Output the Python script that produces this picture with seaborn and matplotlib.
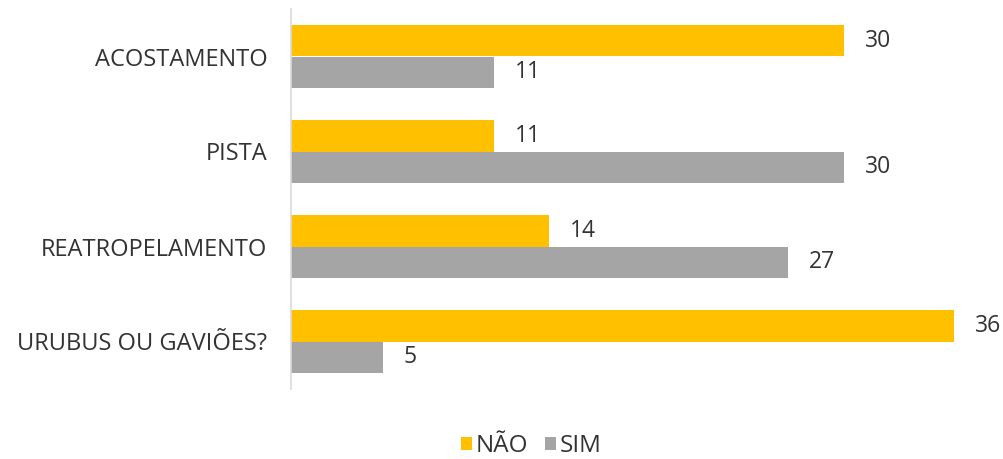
import matplotlib
matplotlib.use("Agg")
import matplotlib.pyplot as plt
import seaborn as sns
import pandas as pd
from matplotlib.patches import Patch

categories = ["ACOSTAMENTO", "PISTA", "REATROPELAMENTO", "URUBUS OU GAVIÕES?"]
series_names = ["NÃO", "SIM"]
nao_values = [30, 11, 14, 36]
sim_values = [11, 30, 27, 5]
colors = ["#FFC000", "#A5A5A5"]

df = pd.DataFrame({
    "cat": categories * 2,
    "serie": [series_names[0]] * 4 + [series_names[1]] * 4,
    "val": nao_values + sim_values,
})

sns.set_style("white")
plt.rcParams['font.family'] = ['Open Sans', 'DejaVu Sans']

TXT = "#333333"
fig = plt.figure(figsize=(10.04, 4.59), dpi=100)
ax = fig.add_axes([291/1004, 1 - 389/459, 700/1004, 380/459])
sns.barplot(data=df, y="cat", x="val", hue="serie", orient="h",
            palette=colors, saturation=1, width=0.66, ax=ax, legend=False,
            linewidth=0)

for cont in ax.containers:
    ax.bar_label(cont, padding=15, fontsize=16.5, color=TXT)

ax.set_xlim(0, 38)
ax.set_ylim(3.5, -0.5)
ax.set_xlabel("")
ax.set_ylabel("")
ax.set_xticks([])
ax.tick_params(axis="y", length=0, pad=17, labelsize=17, labelcolor=TXT)
for s in ["top", "right", "bottom"]:
    ax.spines[s].set_visible(False)
ax.spines["left"].set_color("#D9D9D9")
ax.spines["left"].set_linewidth(1.2)

handles = [Patch(facecolor=c, edgecolor="none") for c in colors]
fig.legend(handles, series_names, loc="center", bbox_to_anchor=(531/1004, 1 - 446/459),
           ncol=2, frameon=False, fontsize=17.5, handlelength=0.45, handleheight=0.45,
           handletextpad=0.15, columnspacing=0.7, labelcolor=TXT)

fig.savefig("out.png", dpi=100)
